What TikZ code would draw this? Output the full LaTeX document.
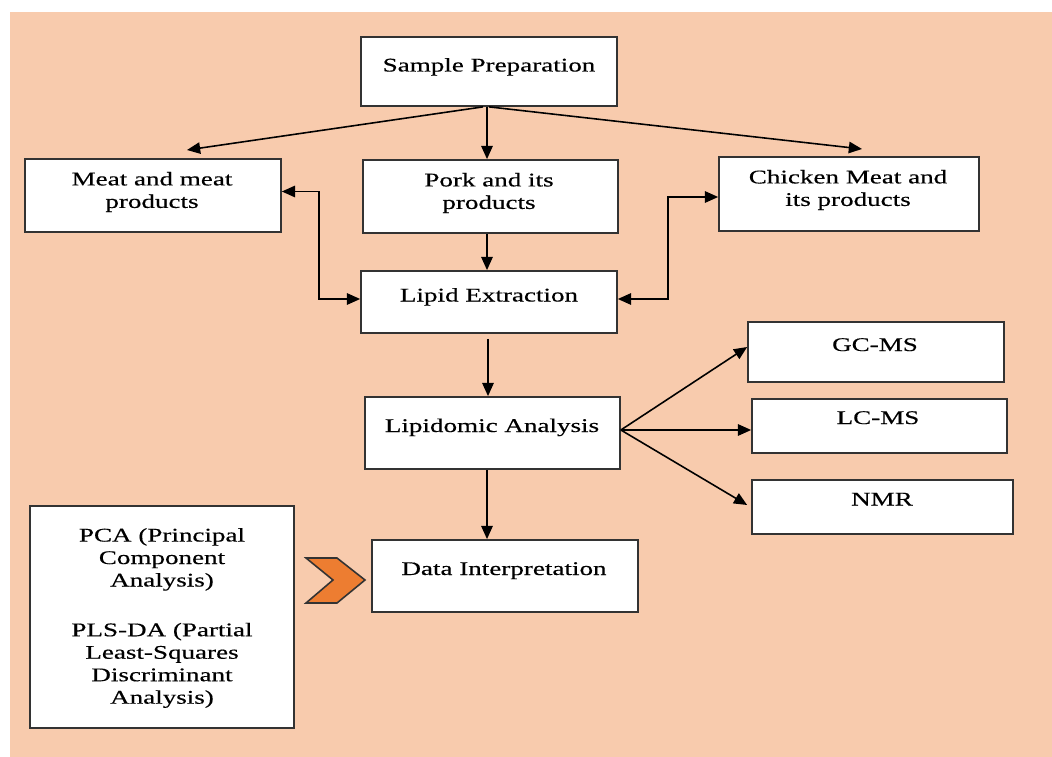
\documentclass[tikz,border=0pt]{standalone}
\usepackage{fontspec}
\setmainfont{Liberation Serif}[FakeStretch=1.4,FakeBold=0.4]
\usetikzlibrary{arrows.meta,calc}
\definecolor{peach}{HTML}{F8CBAD}
\definecolor{chevorange}{HTML}{ED7D31}
\definecolor{boxline}{HTML}{333333}
\begin{document}
\begin{tikzpicture}[x=0.02cm,y=-0.02cm,
  box/.style={draw=boxline, line width=1pt, fill=white, rectangle, inner sep=0pt},
  lbl/.style={font=\fontsize{11}{12.8}\selectfont, align=center, inner sep=0pt, text=black},
  arr/.style={draw=black, line width=0.9pt, -{Triangle[length=7.5pt,width=6.5pt]}},
  darr/.style={draw=black, line width=0.9pt, {Triangle[length=7.5pt,width=6.5pt]}-{Triangle[length=7.5pt,width=6.5pt]}},
  chev/.style={draw=boxline, line width=0.9pt, fill=chevorange, line join=miter}]
\useasboundingbox (0,0) rectangle (1052,757);
\fill[white] (0,0) rectangle (1052,757);
\fill[peach] (10,12) rectangle (1052,757);

% boxes
\node[box, minimum width=5.12cm, minimum height=1.38cm] (sp) at (489,71.5) {};
\node[box, minimum width=5.10cm, minimum height=1.46cm] (pork) at (490.5,196.5) {};
\node[box, minimum width=5.12cm, minimum height=1.46cm] (meat) at (153,195.5) {};
\node[box, minimum width=5.20cm, minimum height=1.48cm] (chicken) at (849,194) {};
\node[box, minimum width=5.12cm, minimum height=1.24cm] (lipid) at (489,302) {};
\node[box, minimum width=5.10cm, minimum height=1.44cm] (lipidomic) at (492.5,433) {};
\node[box, minimum width=5.12cm, minimum height=1.20cm] (gc) at (876,352) {};
\node[box, minimum width=5.10cm, minimum height=1.08cm] (lc) at (879.5,426) {};
\node[box, minimum width=5.22cm, minimum height=1.08cm] (nmr) at (882.5,507) {};
\node[box, minimum width=5.32cm, minimum height=1.44cm] (data) at (505,576) {};
\node[box, minimum width=5.28cm, minimum height=4.44cm] (pca) at (162,617) {};

% labels
\node[lbl, anchor=base] (sp-t) at (489,71.5) {Sample Preparation};
\node[lbl] (pork-t) at (489,193) {Pork and its\\products};
\node[lbl] (meat-t) at (152,192) {Meat and meat\\products};
\node[lbl] (chicken-t) at (848,190) {Chicken Meat and\\its products};
\node[lbl, anchor=base] (lipid-t) at (489,301.5) {Lipid Extraction};
\node[lbl, anchor=base] (lipidomic-t) at (492,432) {Lipidomic Analysis};
\node[lbl, anchor=base] (gc-t) at (875,351) {GC-MS};
\node[lbl, anchor=base] (lc-t) at (878,424) {LC-MS};
\node[lbl, anchor=base] (nmr-t) at (882,505.5) {NMR};
\node[lbl, anchor=base] (data-t) at (504,575) {Data Interpretation};
\node[lbl] (pca-t) at (162,618) {PCA (Principal\\Component\\Analysis)\\[15.5pt]PLS-DA (Partial\\Least-Squares\\Discriminant\\Analysis)};

% chevron
\draw[chev] (306,558) -- (337,558) -- (365,580) -- (337,603) -- (306,603) -- (333,580) -- cycle;

% connectors
\coordinate (meattip) at (187,150);
\coordinate (chicktip) at (862,149);
\draw[arr] ([xshift=-0.12cm]sp.south) -- (meattip);
\draw[arr] (sp.south) -- (chicktip);
\draw[arr] ([xshift=-0.04cm]sp.south) -- ([xshift=-0.04cm]sp.south |- pork.north);
\draw[arr] ([xshift=-0.07cm]pork.south) -- ([xshift=-0.07cm]pork.south |- lipid.north);
\draw[darr] ([yshift=0.08cm]meat.east) -- ++(37,0) |- ([yshift=0.06cm]lipid.west);
\draw[darr] ([yshift=-0.06cm]chicken.west) -- ++(-50,0) |- ([yshift=0.06cm]lipid.east);
\draw[arr, shorten <=0.1cm] ([xshift=-0.02cm]lipid.south) -- ([xshift=-0.02cm]lipid.south |- lipidomic.north);
\draw[arr] ([yshift=0.06cm]lipidomic.east) -- ([yshift=0.1cm]gc.west);
\draw[arr] ([yshift=0.06cm]lipidomic.east) -- ([yshift=-0.08cm]lc.west);
\draw[arr] ([yshift=0.06cm]lipidomic.east) -- ([xshift=-0.08cm,yshift=0.04cm]nmr.west);
\draw[arr] ([xshift=-0.11cm]lipidomic.south) -- ([xshift=-0.11cm]lipidomic.south |- data.north);
\end{tikzpicture}
\end{document}
